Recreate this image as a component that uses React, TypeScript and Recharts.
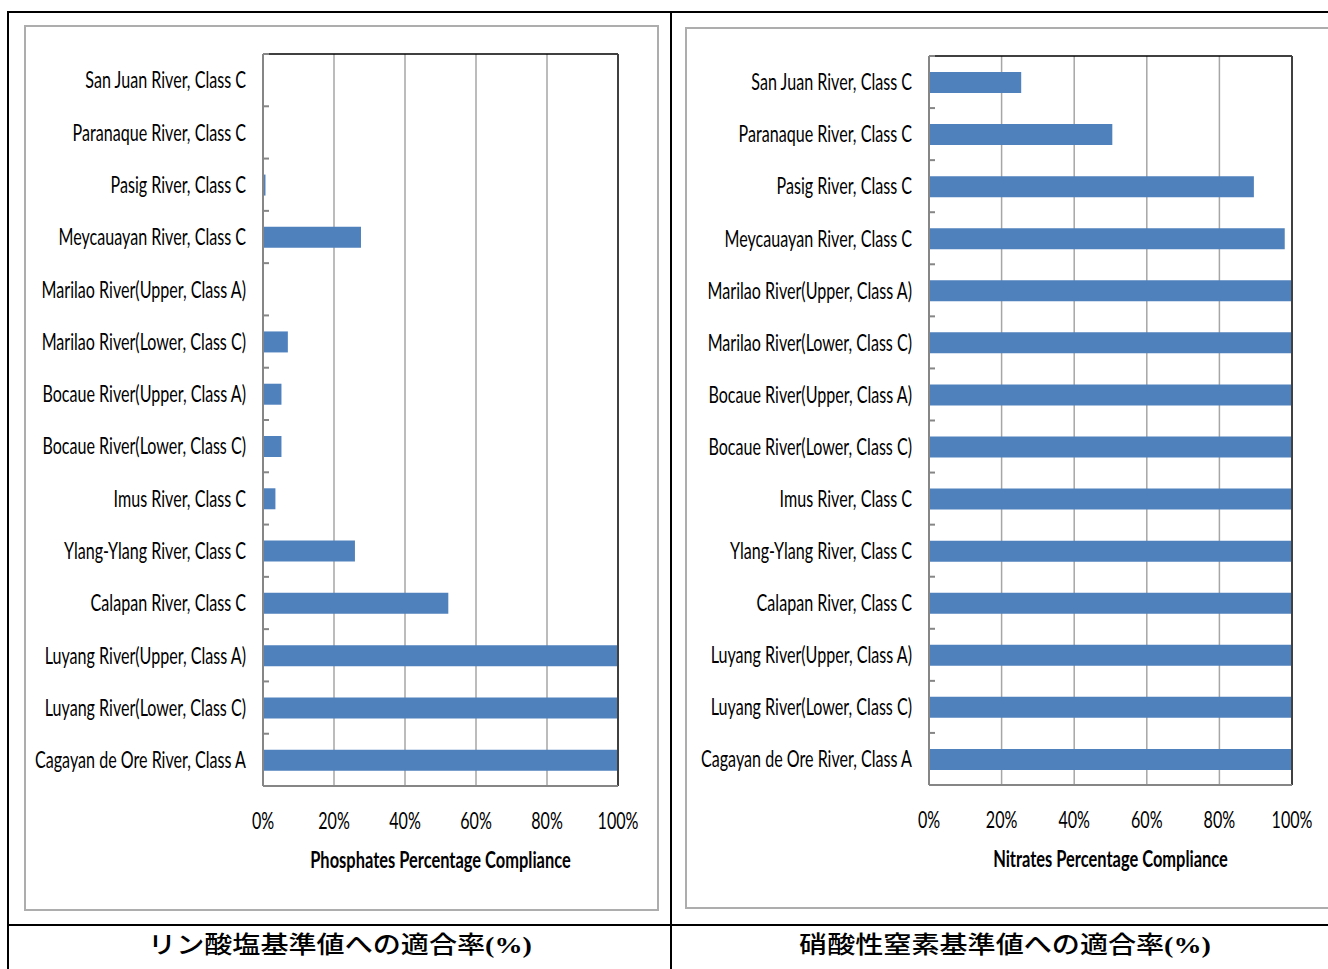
import { BarChart, Bar, XAxis, YAxis, CartesianGrid, ReferenceLine } from 'recharts'

const rivers = [
  'San Juan River, Class C',
  'Paranaque River, Class C',
  'Pasig River, Class C',
  'Meycauayan River, Class C',
  'Marilao River(Upper, Class A)',
  'Marilao River(Lower, Class C)',
  'Bocaue River(Upper, Class A)',
  'Bocaue River(Lower, Class C)',
  'Imus River, Class C',
  'Ylang-Ylang River, Class C',
  'Calapan River, Class C',
  'Luyang River(Upper, Class A)',
  'Luyang River(Lower, Class C)',
  'Cagayan de Ore River, Class A',
]

// compliance in percent, same order as rivers
const phosphates = [0, 0, 0.7, 27.6, 0, 7, 5.2, 5.2, 3.5, 25.9, 52.2, 100, 100, 100]
const nitrates = [25.4, 50.5, 89.5, 98, 100, 100, 100, 100, 100, 100, 100, 100, 100, 100]

const percentTicks = [0, 20, 40, 60, 80, 100]

const captions = ['リン酸塩基準値への適合率', '硝酸性窒素基準値への適合率']
const captionUnit = '(%)'

const FONT = "Lato, 'Open Sans', sans-serif"
const SQUEEZE = 0.7
const BLUE = '#4f81bd'
const AXIS_GRAY = '#868686'

const phosphateRows = rivers.map((river, i) => ({ river, value: phosphates[i] }))
const nitrateRows = rivers.map((river, i) => ({ river, value: nitrates[i] }))

function RiverTick({ x, y, payload, index, band }: any) {
  const below = y + band / 2
  return (
    <g>
      {index === 0 && (
        <line x1={x} x2={x + 6} y1={y - band / 2} y2={y - band / 2} stroke={AXIS_GRAY} strokeWidth={2} />
      )}
      <line x1={x} x2={x + 6} y1={below} y2={below} stroke={AXIS_GRAY} strokeWidth={2} />
      <text
        transform={`translate(${x - 17},${y + 8.3}) scale(${SQUEEZE},1)`}
        textAnchor="end"
        fontFamily={FONT}
        fontSize={23}
        fill="#000"
      >
        {payload.value}
      </text>
    </g>
  )
}

function PercentTick({ x, y, payload }: any) {
  return (
    <text
      transform={`translate(${x},${y + 42.5}) scale(${SQUEEZE},1)`}
      textAnchor="middle"
      fontFamily={FONT}
      fontSize={23}
      fill="#000"
    >
      {`${payload.value}%`}
    </text>
  )
}

function AxisTitle({ viewBox, text }: any) {
  const { x, y, width } = viewBox
  return (
    <text
      transform={`translate(${x + width / 2},${y + 82}) scale(0.715,1)`}
      textAnchor="middle"
      fontFamily={FONT}
      fontSize={23}
      fontWeight={700}
      fill="#000"
    >
      {text}
    </text>
  )
}

type PanelProps = {
  rows: { river: string; value: number }[]
  title: string
  left: number
  top: number
  width: number
  height: number
  yAxisWidth: number
  plotWidth: number
  plotTop: number
  plotHeight: number
}

function CompliancePanel(p: PanelProps) {
  const band = p.plotHeight / p.rows.length
  const bottom = p.height - p.plotTop - p.plotHeight
  return (
    <div style={{ position: 'absolute', left: p.left, top: p.top }}>
      <BarChart
        width={p.width}
        height={p.height}
        data={p.rows}
        layout="vertical"
        margin={{ top: p.plotTop, right: p.width - p.yAxisWidth - p.plotWidth, bottom: 0, left: 0 }}
        barSize={21}
      >
        <CartesianGrid horizontal={false} stroke="#a6a6a6" strokeWidth={1.5} />
        {/* dark frame along the top of the plot area */}
        <CartesianGrid
          vertical={false}
          horizontalCoordinatesGenerator={({ offset }: any) => [offset.top]}
          stroke="#000"
          strokeWidth={1.5}
        />
        <XAxis
          type="number"
          domain={[0, 100]}
          ticks={percentTicks}
          height={bottom}
          axisLine={{ stroke: AXIS_GRAY, strokeWidth: 2 }}
          tickLine={false}
          tickSize={0}
          tickMargin={0}
          tick={<PercentTick />}
          interval={0}
          label={{ content: (props: any) => <AxisTitle {...props} text={p.title} /> }}
        />
        <YAxis
          type="category"
          dataKey="river"
          width={p.yAxisWidth}
          interval={0}
          axisLine={{ stroke: AXIS_GRAY, strokeWidth: 2 }}
          tickLine={false}
          tickSize={0}
          tickMargin={0}
          tick={(props: any) => <RiverTick {...props} band={band} />}
        />
        <Bar dataKey="value" fill={BLUE} isAnimationActive={false} />
        <ReferenceLine x={100} stroke="#404040" strokeWidth={2} />
      </BarChart>
    </div>
  )
}

function Rule({ left, top, width, height, color = '#000' }: any) {
  return <div style={{ position: 'absolute', left, top, width, height, background: color }} />
}

export default function App() {
  return (
    <div style={{ position: 'absolute', left: 0, top: 0, width: 1328, height: 969, overflow: 'hidden', background: '#fff' }}>
      {/* table rules */}
      <Rule left={7} top={11} width={1321} height={2} />
      <Rule left={7} top={11} width={2} height={958} />
      <Rule left={670} top={11} width={2} height={958} />
      <Rule left={7} top={924} width={1321} height={2} />

      {/* chart frames */}
      <div style={{ position: 'absolute', left: 24, top: 25, width: 631, height: 882, border: '2px solid #adadad' }} />
      <div style={{ position: 'absolute', left: 685, top: 27, width: 700, height: 878, border: '2px solid #adadad' }} />

      <CompliancePanel
        rows={phosphateRows}
        title="Phosphates Percentage Compliance"
        left={24}
        top={25}
        width={633}
        height={884}
        yAxisWidth={239}
        plotWidth={355}
        plotTop={29}
        plotHeight={732}
      />
      <CompliancePanel
        rows={nitrateRows}
        title="Nitrates Percentage Compliance"
        left={685}
        top={27}
        width={643}
        height={880}
        yAxisWidth={244}
        plotWidth={363}
        plotTop={29}
        plotHeight={729}
      />

      {captions.map((c, i) => (
        <div
          key={c}
          style={{
            position: 'absolute',
            left: i === 0 ? 9 : 672,
            top: 933,
            width: i === 0 ? 661 : 666,
            textAlign: 'center',
            fontFamily: "'Liberation Serif', 'Noto Sans CJK JP', serif",
            fontWeight: 500,
            fontSize: 24,
            lineHeight: '24px',
            color: '#000',
          }}
        >
          <span style={{ display: 'inline-block', transform: 'scaleX(1.17)' }}>
            {c}
            <span style={{ fontWeight: 700 }}>{captionUnit}</span>
          </span>
        </div>
      ))}
    </div>
  )
}
